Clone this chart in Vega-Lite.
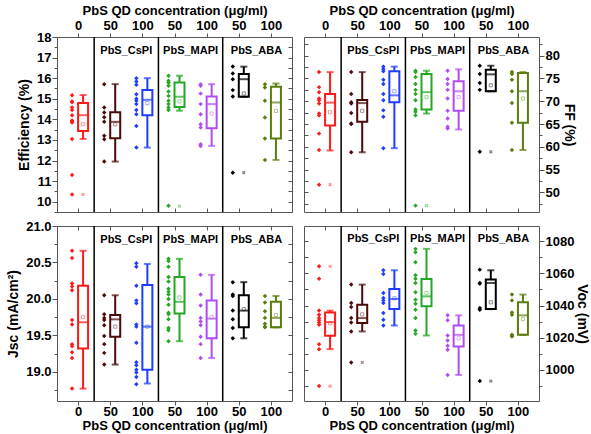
{
"$schema":"https://vega.github.io/schema/vega-lite/v6.json",
"padding":{"left":6,"top":3,"right":0,"bottom":0},
"background":"white",
"config":{"font":"Liberation Sans","view":{"stroke":"#555","strokeWidth":1},
"axis":{"labelFont":"Liberation Sans","labelFontSize":13,"labelFontWeight":"bold","labelColor":"#000","titleFont":"Liberation Sans","titleFontSize":14,"titleFontWeight":"bold","titleColor":"#000","domain":false,"tickColor":"#555","grid":false,"labelPadding":1,"titlePadding":2,"labelFlush":false,"labelOverlap":false}},
"datasets":{
"seps":[{"b":1.5},{"b":3.5},{"b":5.5}],
"labels":[{"t":"PbS_CsPI","c":2.5},{"t":"PbS_MAPI","c":4.5},{"t":"PbS_ABA","c":6.55}],
"ext":[{"p":"E","g":1,"v":10.35},{"p":"E","g":4,"v":9.78},{"p":"E","g":6,"v":11.41},{"p":"F","g":1,"v":51.7},{"p":"F","g":4,"v":47.1},{"p":"F","g":6,"v":58.9},{"p":"V","g":1,"v":1064.4},{"p":"V","g":1,"v":990.0},{"p":"V","g":2,"v":1004.6},{"p":"V","g":6,"v":993.1}],
"box":[
{"p":"E","g":1,"q1":13.44,"med":14.2,"q3":14.79,"lo":13.05,"hi":15.18,"mean":13.76},
{"p":"E","g":2,"q1":13.08,"med":13.88,"q3":14.35,"lo":11.95,"hi":15.71,"mean":13.76},
{"p":"E","g":3,"q1":14.2,"med":14.95,"q3":15.42,"lo":12.63,"hi":16.0,"mean":14.79},
{"p":"E","g":4,"q1":14.6,"med":15.1,"q3":15.79,"lo":14.42,"hi":16.12,"mean":14.87},
{"p":"E","g":5,"q1":13.57,"med":14.74,"q3":15.11,"lo":12.71,"hi":15.71,"mean":14.28},
{"p":"E","g":6,"q1":15.1,"med":15.95,"q3":16.2,"lo":15.1,"hi":16.56,"mean":15.26},
{"p":"E","g":7,"q1":13.07,"med":14.82,"q3":15.58,"lo":12.03,"hi":15.74,"mean":14.41},
{"p":"F","g":1,"q1":64.7,"med":69.7,"q3":71.6,"lo":59.2,"hi":76.4,"mean":67.6},
{"p":"F","g":2,"q1":65.5,"med":69.6,"q3":70.3,"lo":58.8,"hi":76.4,"mean":67.9},
{"p":"F","g":3,"q1":69.8,"med":71.3,"q3":76.6,"lo":59.7,"hi":77.6,"mean":72.2},
{"p":"F","g":4,"q1":68.2,"med":72.0,"q3":76.0,"lo":67.3,"hi":76.7,"mean":70.9},
{"p":"F","g":5,"q1":67.9,"med":72.2,"q3":74.4,"lo":63.8,"hi":77.0,"mean":70.9},
{"p":"F","g":6,"q1":72.2,"med":75.9,"q3":76.9,"lo":72.2,"hi":77.8,"mean":73.5},
{"p":"F","g":7,"q1":65.3,"med":72.2,"q3":76.2,"lo":59.3,"hi":76.4,"mean":70.6},
{"p":"J","g":1,"q1":19.32,"med":19.68,"q3":20.18,"lo":18.77,"hi":20.66,"mean":19.75},
{"p":"J","g":2,"q1":19.48,"med":19.72,"q3":19.78,"lo":19.10,"hi":20.05,"mean":19.62},
{"p":"J","g":3,"q1":19.03,"med":19.62,"q3":20.19,"lo":18.84,"hi":20.48,"mean":19.62},
{"p":"J","g":4,"q1":19.80,"med":19.96,"q3":20.30,"lo":19.42,"hi":20.55,"mean":20.02},
{"p":"J","g":5,"q1":19.46,"med":19.73,"q3":19.98,"lo":19.19,"hi":20.33,"mean":19.75},
{"p":"J","g":6,"q1":19.61,"med":19.84,"q3":20.05,"lo":19.46,"hi":20.23,"mean":19.86},
{"p":"J","g":7,"q1":19.61,"med":19.74,"q3":19.96,"lo":19.61,"hi":20.04,"mean":19.78},
{"p":"V","g":1,"q1":1021.2,"med":1029.7,"q3":1035.7,"lo":1012.9,"hi":1036.8,"mean":1029.0},
{"p":"V","g":2,"q1":1029.1,"med":1032.2,"q3":1040.5,"lo":1023.9,"hi":1053.0,"mean":1034.5},
{"p":"V","g":3,"q1":1037.8,"med":1044.1,"q3":1050.3,"lo":1027.6,"hi":1061.9,"mean":1044.5},
{"p":"V","g":4,"q1":1039.5,"med":1045.7,"q3":1056.5,"lo":1021.4,"hi":1075.2,"mean":1047.8},
{"p":"V","g":5,"q1":1014.5,"med":1021.8,"q3":1027.6,"lo":996.9,"hi":1033.9,"mean":1019.7},
{"p":"V","g":6,"q1":1037.8,"med":1054.0,"q3":1056.1,"lo":1037.8,"hi":1061.9,"mean":1042.0},
{"p":"V","g":7,"q1":1021.8,"med":1033.9,"q3":1042.0,"lo":1021.8,"hi":1046.8,"mean":1031.6}
],
"pts":[
{"p":"E","g":1,"v":15.17},{"p":"E","g":1,"v":14.87},{"p":"E","g":1,"v":14.83},{"p":"E","g":1,"v":14.58},{"p":"E","g":1,"v":14.45},{"p":"E","g":1,"v":14.2},{"p":"E","g":1,"v":13.95},{"p":"E","g":1,"v":13.9},{"p":"E","g":1,"v":13.85},{"p":"E","g":1,"v":13.05},{"p":"E","g":1,"v":11.3},{"p":"E","g":1,"v":10.35},
{"p":"E","g":2,"v":15.71},{"p":"E","g":2,"v":14.58},{"p":"E","g":2,"v":14.33},{"p":"E","g":2,"v":14.1},{"p":"E","g":2,"v":13.88},{"p":"E","g":2,"v":13.2},{"p":"E","g":2,"v":13.03},{"p":"E","g":2,"v":11.95},
{"p":"E","g":3,"v":16.0},{"p":"E","g":3,"v":15.84},{"p":"E","g":3,"v":15.68},{"p":"E","g":3,"v":15.22},{"p":"E","g":3,"v":15.0},{"p":"E","g":3,"v":14.9},{"p":"E","g":3,"v":14.74},{"p":"E","g":3,"v":14.45},{"p":"E","g":3,"v":14.25},{"p":"E","g":3,"v":13.68},{"p":"E","g":3,"v":12.63},
{"p":"E","g":4,"v":16.12},{"p":"E","g":4,"v":15.87},{"p":"E","g":4,"v":15.78},{"p":"E","g":4,"v":15.63},{"p":"E","g":4,"v":15.35},{"p":"E","g":4,"v":15.14},{"p":"E","g":4,"v":14.9},{"p":"E","g":4,"v":14.74},{"p":"E","g":4,"v":14.58},{"p":"E","g":4,"v":14.45},{"p":"E","g":4,"v":9.8},
{"p":"E","g":5,"v":15.71},{"p":"E","g":5,"v":15.63},{"p":"E","g":5,"v":15.25},{"p":"E","g":5,"v":14.74},{"p":"E","g":5,"v":14.25},{"p":"E","g":5,"v":13.76},{"p":"E","g":5,"v":13.6},{"p":"E","g":5,"v":12.79},{"p":"E","g":5,"v":12.71},
{"p":"E","g":6,"v":16.57},{"p":"E","g":6,"v":16.23},{"p":"E","g":6,"v":15.95},{"p":"E","g":6,"v":15.42},{"p":"E","g":6,"v":15.11},{"p":"E","g":6,"v":11.41},
{"p":"E","g":7,"v":15.71},{"p":"E","g":7,"v":15.55},{"p":"E","g":7,"v":14.9},{"p":"E","g":7,"v":14.09},{"p":"E","g":7,"v":13.07},{"p":"E","g":7,"v":12.03},
{"p":"F","g":1,"v":76.4},{"p":"F","g":1,"v":73.1},{"p":"F","g":1,"v":72.0},{"p":"F","g":1,"v":70.6},{"p":"F","g":1,"v":70.2},{"p":"F","g":1,"v":69.5},{"p":"F","g":1,"v":67.3},{"p":"F","g":1,"v":66.9},{"p":"F","g":1,"v":62.9},{"p":"F","g":1,"v":59.3},{"p":"F","g":1,"v":51.7},
{"p":"F","g":2,"v":76.4},{"p":"F","g":2,"v":71.6},{"p":"F","g":2,"v":69.8},{"p":"F","g":2,"v":69.5},{"p":"F","g":2,"v":67.4},{"p":"F","g":2,"v":65.1},{"p":"F","g":2,"v":65.0},{"p":"F","g":2,"v":58.8},
{"p":"F","g":3,"v":77.6},{"p":"F","g":3,"v":77.1},{"p":"F","g":3,"v":76.6},{"p":"F","g":3,"v":74.7},{"p":"F","g":3,"v":73.8},{"p":"F","g":3,"v":71.6},{"p":"F","g":3,"v":70.2},{"p":"F","g":3,"v":68.0},{"p":"F","g":3,"v":66.6},{"p":"F","g":3,"v":59.7},
{"p":"F","g":4,"v":76.7},{"p":"F","g":4,"v":76.4},{"p":"F","g":4,"v":75.3},{"p":"F","g":4,"v":73.8},{"p":"F","g":4,"v":72.5},{"p":"F","g":4,"v":71.6},{"p":"F","g":4,"v":70.2},{"p":"F","g":4,"v":68.2},{"p":"F","g":4,"v":67.7},{"p":"F","g":4,"v":66.9},{"p":"F","g":4,"v":47.1},
{"p":"F","g":5,"v":76.7},{"p":"F","g":5,"v":74.9},{"p":"F","g":5,"v":73.8},{"p":"F","g":5,"v":72.5},{"p":"F","g":5,"v":70.6},{"p":"F","g":5,"v":67.9},{"p":"F","g":5,"v":66.2},{"p":"F","g":5,"v":64.4},{"p":"F","g":5,"v":64.0},
{"p":"F","g":6,"v":77.8},{"p":"F","g":6,"v":76.0},{"p":"F","g":6,"v":74.0},{"p":"F","g":6,"v":72.5},{"p":"F","g":6,"v":58.9},
{"p":"F","g":7,"v":76.4},{"p":"F","g":7,"v":76.0},{"p":"F","g":7,"v":74.7},{"p":"F","g":7,"v":72.2},{"p":"F","g":7,"v":69.6},{"p":"F","g":7,"v":65.3},{"p":"F","g":7,"v":59.3},
{"p":"J","g":1,"v":20.66},{"p":"J","g":1,"v":20.56},{"p":"J","g":1,"v":20.21},{"p":"J","g":1,"v":20.17},{"p":"J","g":1,"v":20.12},{"p":"J","g":1,"v":19.71},{"p":"J","g":1,"v":19.65},{"p":"J","g":1,"v":19.38},{"p":"J","g":1,"v":19.35},{"p":"J","g":1,"v":19.27},{"p":"J","g":1,"v":19.19},{"p":"J","g":1,"v":18.77},
{"p":"J","g":2,"v":20.05},{"p":"J","g":2,"v":19.79},{"p":"J","g":2,"v":19.74},{"p":"J","g":2,"v":19.71},{"p":"J","g":2,"v":19.64},{"p":"J","g":2,"v":19.49},{"p":"J","g":2,"v":19.38},{"p":"J","g":2,"v":19.26},{"p":"J","g":2,"v":19.10},
{"p":"J","g":3,"v":20.49},{"p":"J","g":3,"v":20.44},{"p":"J","g":3,"v":20.18},{"p":"J","g":3,"v":19.98},{"p":"J","g":3,"v":19.94},{"p":"J","g":3,"v":19.65},{"p":"J","g":3,"v":19.62},{"p":"J","g":3,"v":19.40},{"p":"J","g":3,"v":19.13},{"p":"J","g":3,"v":19.09},{"p":"J","g":3,"v":19.03},{"p":"J","g":3,"v":18.99},{"p":"J","g":3,"v":18.93},{"p":"J","g":3,"v":18.83},
{"p":"J","g":4,"v":20.55},{"p":"J","g":4,"v":20.52},{"p":"J","g":4,"v":20.44},{"p":"J","g":4,"v":20.30},{"p":"J","g":4,"v":20.24},{"p":"J","g":4,"v":20.14},{"p":"J","g":4,"v":20.10},{"p":"J","g":4,"v":20.06},{"p":"J","g":4,"v":20.0},{"p":"J","g":4,"v":19.92},{"p":"J","g":4,"v":19.81},{"p":"J","g":4,"v":19.79},{"p":"J","g":4,"v":19.72},{"p":"J","g":4,"v":19.60},{"p":"J","g":4,"v":19.57},{"p":"J","g":4,"v":19.42},
{"p":"J","g":5,"v":20.33},{"p":"J","g":5,"v":20.06},{"p":"J","g":5,"v":19.91},{"p":"J","g":5,"v":19.74},{"p":"J","g":5,"v":19.69},{"p":"J","g":5,"v":19.64},{"p":"J","g":5,"v":19.48},{"p":"J","g":5,"v":19.38},{"p":"J","g":5,"v":19.19},
{"p":"J","g":6,"v":20.23},{"p":"J","g":6,"v":20.06},{"p":"J","g":6,"v":20.04},{"p":"J","g":6,"v":19.84},{"p":"J","g":6,"v":19.72},{"p":"J","g":6,"v":19.60},{"p":"J","g":6,"v":19.46},
{"p":"J","g":7,"v":20.04},{"p":"J","g":7,"v":19.95},{"p":"J","g":7,"v":19.83},{"p":"J","g":7,"v":19.74},{"p":"J","g":7,"v":19.66},{"p":"J","g":7,"v":19.61},{"p":"J","g":7,"v":19.62},
{"p":"V","g":1,"v":1064.4},{"p":"V","g":1,"v":1056.7},{"p":"V","g":1,"v":1036.9},{"p":"V","g":1,"v":1034.3},{"p":"V","g":1,"v":1032.2},{"p":"V","g":1,"v":1030.8},{"p":"V","g":1,"v":1029.5},{"p":"V","g":1,"v":1028.1},{"p":"V","g":1,"v":1016.0},{"p":"V","g":1,"v":1012.9},{"p":"V","g":1,"v":990.0},
{"p":"V","g":2,"v":1053.0},{"p":"V","g":2,"v":1041.6},{"p":"V","g":2,"v":1039.1},{"p":"V","g":2,"v":1032.2},{"p":"V","g":2,"v":1029.5},{"p":"V","g":2,"v":1023.9},{"p":"V","g":2,"v":1004.6},
{"p":"V","g":3,"v":1061.9},{"p":"V","g":3,"v":1059.6},{"p":"V","g":3,"v":1047.8},{"p":"V","g":3,"v":1044.7},{"p":"V","g":3,"v":1043.2},{"p":"V","g":3,"v":1041.6},{"p":"V","g":3,"v":1035.3},{"p":"V","g":3,"v":1031.2},{"p":"V","g":3,"v":1027.6},
{"p":"V","g":4,"v":1075.2},{"p":"V","g":4,"v":1073.1},{"p":"V","g":4,"v":1066.9},{"p":"V","g":4,"v":1058.8},{"p":"V","g":4,"v":1056.7},{"p":"V","g":4,"v":1054.0},{"p":"V","g":4,"v":1048.2},{"p":"V","g":4,"v":1043.6},{"p":"V","g":4,"v":1041.1},{"p":"V","g":4,"v":1037.4},{"p":"V","g":4,"v":1032.2},{"p":"V","g":4,"v":1024.5},{"p":"V","g":4,"v":1022.4},
{"p":"V","g":5,"v":1033.9},{"p":"V","g":5,"v":1030.8},{"p":"V","g":5,"v":1021.4},{"p":"V","g":5,"v":1018.3},{"p":"V","g":5,"v":1015.0},{"p":"V","g":5,"v":1012.5},{"p":"V","g":5,"v":996.9},
{"p":"V","g":6,"v":1062.3},{"p":"V","g":6,"v":1054.0},{"p":"V","g":6,"v":1053.6},{"p":"V","g":6,"v":1038.4},{"p":"V","g":6,"v":1037.4},{"p":"V","g":6,"v":993.1},
{"p":"V","g":7,"v":1046.8},{"p":"V","g":7,"v":1043.2},{"p":"V","g":7,"v":1035.7},{"p":"V","g":7,"v":1034.3},{"p":"V","g":7,"v":1021.8},{"p":"V","g":7,"v":1021.2},{"p":"V","g":7,"v":1020.8}
]},
"bounds":"flush",
"spacing":{"row":14,"column":12},
"columns":2,
"concat":[
{"width":235,"height":175,"resolve":{"axis":{"x":"independent","y":"independent"}},
"layer":[
{"data":{"name":"seps"},"mark":{"type":"rule","color":"#000","strokeWidth":1.5},"encoding":{"x":{"field":"b","type":"quantitative","scale":{"domain":[0.5,7.5],"nice":false,"zero":false},"axis":null}}},
{"data":{"name":"box"},"transform":[{"filter":"datum.p=='E'"}],"mark":{"type":"bar","filled":false,"size":10,"strokeWidth":2,"xOffset":5},
"encoding":{"x":{"field":"g","type":"quantitative","axis":{"orient":"bottom","values":[1,2,3,4,5,6,7],"labels":false,"tickSize":-4,"title":null}},
"y":{"field":"q1","type":"quantitative","scale":{"domain":[9.5,18],"nice":false,"zero":false},"axis":{"orient":"right","values":[9.5,10,10.5,11,11.5,12,12.5,13,13.5,14,14.5,15,15.5,16,16.5,17,17.5,18],"labels":false,"tickSize":-4,"title":null}},"y2":{"field":"q3"},
"color":{"field":"g","type":"nominal","scale":{"domain":[1,2,3,4,5,6,7],"range":["#ff1a1a","#4b0a0a","#1f3dff","#22a822","#b04cf5","#000000","#5a7d0f"]},"legend":null}}},
{"data":{"name":"box"},"transform":[{"filter":"datum.p=='E'"}],"mark":{"type":"rule","strokeWidth":2,"xOffset":5},"encoding":{"x":{"field":"g","type":"quantitative","axis":null},"y":{"field":"lo","type":"quantitative","axis":null},"y2":{"field":"q1"},"color":{"field":"g","type":"nominal","legend":null}}},
{"data":{"name":"box"},"transform":[{"filter":"datum.p=='E'"}],"mark":{"type":"rule","strokeWidth":2,"xOffset":5},"encoding":{"x":{"field":"g","type":"quantitative","axis":null},"y":{"field":"q3","type":"quantitative","axis":null},"y2":{"field":"hi"},"color":{"field":"g","type":"nominal","legend":null}}},
{"data":{"name":"box"},"transform":[{"filter":"datum.p=='E'"}],"mark":{"type":"tick","orient":"horizontal","size":7,"thickness":2,"xOffset":5},"encoding":{"x":{"field":"g","type":"quantitative","axis":null},"y":{"field":"lo","type":"quantitative","axis":null},"color":{"field":"g","type":"nominal","legend":null}}},
{"data":{"name":"box"},"transform":[{"filter":"datum.p=='E'"}],"mark":{"type":"tick","orient":"horizontal","size":7,"thickness":2,"xOffset":5},"encoding":{"x":{"field":"g","type":"quantitative","axis":null},"y":{"field":"hi","type":"quantitative","axis":null},"color":{"field":"g","type":"nominal","legend":null}}},
{"data":{"name":"box"},"transform":[{"filter":"datum.p=='E'"}],"mark":{"type":"tick","orient":"horizontal","size":10,"thickness":2,"xOffset":5},"encoding":{"x":{"field":"g","type":"quantitative","axis":null},"y":{"field":"med","type":"quantitative","axis":null},"color":{"field":"g","type":"nominal","legend":null}}},
{"data":{"name":"box"},"transform":[{"filter":"datum.p=='E'"}],"mark":{"type":"point","shape":"square","size":10,"filled":false,"strokeWidth":1,"opacity":0.45,"xOffset":5},"encoding":{"x":{"field":"g","type":"quantitative","axis":null},"y":{"field":"mean","type":"quantitative","axis":null},"color":{"field":"g","type":"nominal","legend":null}}},
{"data":{"name":"ext"},"transform":[{"filter":"datum.p=='E'"}],"mark":{"type":"point","shape":"cross","angle":45,"size":14,"filled":true,"opacity":0.45,"xOffset":5},"encoding":{"x":{"field":"g","type":"quantitative","axis":null},"y":{"field":"v","type":"quantitative","axis":null},"color":{"field":"g","type":"nominal","legend":null}}},
{"data":{"name":"pts"},"transform":[{"filter":"datum.p=='E'"}],"mark":{"type":"point","shape":"diamond","filled":true,"size":20,"opacity":1,"xOffset":-6},
"encoding":{"x":{"field":"g","type":"quantitative","axis":{"orient":"top","values":[1,2,3,4,5,6,7],"labelExpr":"datum.value==1?'0':(datum.value%2==0?'50':'100')","title":"PbS QD concentration (μg/ml)","titleFontSize":13,"tickSize":4,"labelPadding":1,"titlePadding":2}},
"y":{"field":"v","type":"quantitative","axis":{"orient":"left","values":[10,11,12,13,14,15,16,17,18],"title":"Efficiency (%)","tickSize":5,"titlePadding":5}},"color":{"field":"g","type":"nominal","legend":null}}},
{"data":{"name":"labels"},"mark":{"type":"text","font":"Liberation Sans","fontSize":11,"fontWeight":"bold","baseline":"middle","color":"#000"},"encoding":{"x":{"field":"c","type":"quantitative","axis":null},"y":{"datum":17.33,"type":"quantitative","axis":{"orient":"left","values":[9.5,10.5,11.5,12.5,13.5,14.5,15.5,16.5,17.5],"labels":false,"tickSize":3,"title":null}},"text":{"field":"t"}}}
]},
{"width":235,"height":175,"resolve":{"axis":{"x":"independent","y":"independent"}},
"layer":[
{"data":{"name":"seps"},"mark":{"type":"rule","color":"#000","strokeWidth":1.5},"encoding":{"x":{"field":"b","type":"quantitative","scale":{"domain":[0.5,7.5],"nice":false,"zero":false},"axis":null}}},
{"data":{"name":"box"},"transform":[{"filter":"datum.p=='F'"}],"mark":{"type":"bar","filled":false,"size":10,"strokeWidth":2,"xOffset":5},
"encoding":{"x":{"field":"g","type":"quantitative","axis":{"orient":"bottom","values":[1,2,3,4,5,6,7],"labels":false,"tickSize":-4,"title":null}},
"y":{"field":"q1","type":"quantitative","scale":{"domain":[45.7,84.1],"nice":false,"zero":false},"axis":{"orient":"left","values":[47.5,50,52.5,55,57.5,60,62.5,65,67.5,70,72.5,75,77.5,80,82.5],"labels":false,"tickSize":-4,"title":null}},"y2":{"field":"q3"},
"color":{"field":"g","type":"nominal","scale":{"domain":[1,2,3,4,5,6,7],"range":["#ff1a1a","#4b0a0a","#1f3dff","#22a822","#b04cf5","#000000","#5a7d0f"]},"legend":null}}},
{"data":{"name":"box"},"transform":[{"filter":"datum.p=='F'"}],"mark":{"type":"rule","strokeWidth":2,"xOffset":5},"encoding":{"x":{"field":"g","type":"quantitative","axis":null},"y":{"field":"lo","type":"quantitative","axis":null},"y2":{"field":"q1"},"color":{"field":"g","type":"nominal","legend":null}}},
{"data":{"name":"box"},"transform":[{"filter":"datum.p=='F'"}],"mark":{"type":"rule","strokeWidth":2,"xOffset":5},"encoding":{"x":{"field":"g","type":"quantitative","axis":null},"y":{"field":"q3","type":"quantitative","axis":null},"y2":{"field":"hi"},"color":{"field":"g","type":"nominal","legend":null}}},
{"data":{"name":"box"},"transform":[{"filter":"datum.p=='F'"}],"mark":{"type":"tick","orient":"horizontal","size":7,"thickness":2,"xOffset":5},"encoding":{"x":{"field":"g","type":"quantitative","axis":null},"y":{"field":"lo","type":"quantitative","axis":null},"color":{"field":"g","type":"nominal","legend":null}}},
{"data":{"name":"box"},"transform":[{"filter":"datum.p=='F'"}],"mark":{"type":"tick","orient":"horizontal","size":7,"thickness":2,"xOffset":5},"encoding":{"x":{"field":"g","type":"quantitative","axis":null},"y":{"field":"hi","type":"quantitative","axis":null},"color":{"field":"g","type":"nominal","legend":null}}},
{"data":{"name":"box"},"transform":[{"filter":"datum.p=='F'"}],"mark":{"type":"tick","orient":"horizontal","size":10,"thickness":2,"xOffset":5},"encoding":{"x":{"field":"g","type":"quantitative","axis":null},"y":{"field":"med","type":"quantitative","axis":null},"color":{"field":"g","type":"nominal","legend":null}}},
{"data":{"name":"box"},"transform":[{"filter":"datum.p=='F'"}],"mark":{"type":"point","shape":"square","size":10,"filled":false,"strokeWidth":1,"opacity":0.45,"xOffset":5},"encoding":{"x":{"field":"g","type":"quantitative","axis":null},"y":{"field":"mean","type":"quantitative","axis":null},"color":{"field":"g","type":"nominal","legend":null}}},
{"data":{"name":"ext"},"transform":[{"filter":"datum.p=='F'"}],"mark":{"type":"point","shape":"cross","angle":45,"size":14,"filled":true,"opacity":0.45,"xOffset":5},"encoding":{"x":{"field":"g","type":"quantitative","axis":null},"y":{"field":"v","type":"quantitative","axis":null},"color":{"field":"g","type":"nominal","legend":null}}},
{"data":{"name":"pts"},"transform":[{"filter":"datum.p=='F'"}],"mark":{"type":"point","shape":"diamond","filled":true,"size":20,"opacity":1,"xOffset":-6},
"encoding":{"x":{"field":"g","type":"quantitative","axis":{"orient":"top","values":[1,2,3,4,5,6,7],"labelExpr":"datum.value==1?'0':(datum.value%2==0?'50':'100')","title":"PbS QD concentration (μg/ml)","titleFontSize":13,"tickSize":4,"labelPadding":1,"titlePadding":2}},
"y":{"field":"v","type":"quantitative","axis":{"orient":"right","values":[50,55,60,65,70,75,80],"title":"FF (%)","tickSize":5,"titlePadding":2}},"color":{"field":"g","type":"nominal","legend":null}}},
{"data":{"name":"labels"},"mark":{"type":"text","font":"Liberation Sans","fontSize":11,"fontWeight":"bold","baseline":"middle","color":"#000"},"encoding":{"x":{"field":"c","type":"quantitative","axis":null},"y":{"datum":81.1,"type":"quantitative","axis":{"orient":"right","values":[47.5,52.5,57.5,62.5,67.5,72.5,77.5,82.5],"labels":false,"tickSize":3,"title":null}},"text":{"field":"t"}}}
]},
{"width":235,"height":175,"resolve":{"axis":{"x":"independent","y":"independent"}},
"layer":[
{"data":{"name":"seps"},"mark":{"type":"rule","color":"#000","strokeWidth":1.5},"encoding":{"x":{"field":"b","type":"quantitative","scale":{"domain":[0.5,7.5],"nice":false,"zero":false},"axis":null}}},
{"data":{"name":"box"},"transform":[{"filter":"datum.p=='J'"}],"mark":{"type":"bar","filled":false,"size":10,"strokeWidth":2,"xOffset":5},
"encoding":{"x":{"field":"g","type":"quantitative","axis":{"orient":"top","values":[1,2,3,4,5,6,7],"labels":false,"tickSize":-4,"title":null}},
"y":{"field":"q1","type":"quantitative","scale":{"domain":[18.6,21.0],"nice":false,"zero":false},"axis":{"orient":"right","values":[18.75,19,19.25,19.5,19.75,20,20.25,20.5,20.75,21],"labels":false,"tickSize":-4,"title":null}},"y2":{"field":"q3"},
"color":{"field":"g","type":"nominal","scale":{"domain":[1,2,3,4,5,6,7],"range":["#ff1a1a","#4b0a0a","#1f3dff","#22a822","#b04cf5","#000000","#5a7d0f"]},"legend":null}}},
{"data":{"name":"box"},"transform":[{"filter":"datum.p=='J'"}],"mark":{"type":"rule","strokeWidth":2,"xOffset":5},"encoding":{"x":{"field":"g","type":"quantitative","axis":null},"y":{"field":"lo","type":"quantitative","axis":null},"y2":{"field":"q1"},"color":{"field":"g","type":"nominal","legend":null}}},
{"data":{"name":"box"},"transform":[{"filter":"datum.p=='J'"}],"mark":{"type":"rule","strokeWidth":2,"xOffset":5},"encoding":{"x":{"field":"g","type":"quantitative","axis":null},"y":{"field":"q3","type":"quantitative","axis":null},"y2":{"field":"hi"},"color":{"field":"g","type":"nominal","legend":null}}},
{"data":{"name":"box"},"transform":[{"filter":"datum.p=='J'"}],"mark":{"type":"tick","orient":"horizontal","size":7,"thickness":2,"xOffset":5},"encoding":{"x":{"field":"g","type":"quantitative","axis":null},"y":{"field":"lo","type":"quantitative","axis":null},"color":{"field":"g","type":"nominal","legend":null}}},
{"data":{"name":"box"},"transform":[{"filter":"datum.p=='J'"}],"mark":{"type":"tick","orient":"horizontal","size":7,"thickness":2,"xOffset":5},"encoding":{"x":{"field":"g","type":"quantitative","axis":null},"y":{"field":"hi","type":"quantitative","axis":null},"color":{"field":"g","type":"nominal","legend":null}}},
{"data":{"name":"box"},"transform":[{"filter":"datum.p=='J'"}],"mark":{"type":"tick","orient":"horizontal","size":10,"thickness":2,"xOffset":5},"encoding":{"x":{"field":"g","type":"quantitative","axis":null},"y":{"field":"med","type":"quantitative","axis":null},"color":{"field":"g","type":"nominal","legend":null}}},
{"data":{"name":"box"},"transform":[{"filter":"datum.p=='J'"}],"mark":{"type":"point","shape":"square","size":10,"filled":false,"strokeWidth":1,"opacity":0.45,"xOffset":5},"encoding":{"x":{"field":"g","type":"quantitative","axis":null},"y":{"field":"mean","type":"quantitative","axis":null},"color":{"field":"g","type":"nominal","legend":null}}},
{"data":{"name":"pts"},"transform":[{"filter":"datum.p=='J'"}],"mark":{"type":"point","shape":"diamond","filled":true,"size":20,"opacity":1,"xOffset":-6},
"encoding":{"x":{"field":"g","type":"quantitative","axis":{"orient":"bottom","values":[1,2,3,4,5,6,7],"labelExpr":"datum.value==1?'0':(datum.value%2==0?'50':'100')","title":"PbS QD concentration (μg/ml)","titleFontSize":13,"tickSize":4,"labelPadding":0,"titlePadding":1}},
"y":{"field":"v","type":"quantitative","axis":{"orient":"left","values":[19,19.5,20,20.5,21],"format":".1f","title":"Jsc (mA/cm²)","tickSize":5,"titlePadding":5}},"color":{"field":"g","type":"nominal","legend":null}}},
{"data":{"name":"labels"},"mark":{"type":"text","font":"Liberation Sans","fontSize":11,"fontWeight":"bold","baseline":"middle","color":"#000"},"encoding":{"x":{"field":"c","type":"quantitative","axis":null},"y":{"datum":20.81,"type":"quantitative","axis":{"orient":"left","values":[18.75,19.25,19.75,20.25,20.75],"labels":false,"tickSize":3,"title":null}},"text":{"field":"t"}}}
]},
{"width":235,"height":175,"resolve":{"axis":{"x":"independent","y":"independent"}},
"layer":[
{"data":{"name":"seps"},"mark":{"type":"rule","color":"#000","strokeWidth":1.5},"encoding":{"x":{"field":"b","type":"quantitative","scale":{"domain":[0.5,7.5],"nice":false,"zero":false},"axis":null}}},
{"data":{"name":"box"},"transform":[{"filter":"datum.p=='V'"}],"mark":{"type":"bar","filled":false,"size":10,"strokeWidth":2,"xOffset":5},
"encoding":{"x":{"field":"g","type":"quantitative","axis":{"orient":"top","values":[1,2,3,4,5,6,7],"labels":false,"tickSize":-4,"title":null}},
"y":{"field":"q1","type":"quantitative","scale":{"domain":[980.7,1089.4],"nice":false,"zero":false},"axis":{"orient":"left","values":[990,1000,1010,1020,1030,1040,1050,1060,1070,1080],"labels":false,"tickSize":-4,"title":null}},"y2":{"field":"q3"},
"color":{"field":"g","type":"nominal","scale":{"domain":[1,2,3,4,5,6,7],"range":["#ff1a1a","#4b0a0a","#1f3dff","#22a822","#b04cf5","#000000","#5a7d0f"]},"legend":null}}},
{"data":{"name":"box"},"transform":[{"filter":"datum.p=='V'"}],"mark":{"type":"rule","strokeWidth":2,"xOffset":5},"encoding":{"x":{"field":"g","type":"quantitative","axis":null},"y":{"field":"lo","type":"quantitative","axis":null},"y2":{"field":"q1"},"color":{"field":"g","type":"nominal","legend":null}}},
{"data":{"name":"box"},"transform":[{"filter":"datum.p=='V'"}],"mark":{"type":"rule","strokeWidth":2,"xOffset":5},"encoding":{"x":{"field":"g","type":"quantitative","axis":null},"y":{"field":"q3","type":"quantitative","axis":null},"y2":{"field":"hi"},"color":{"field":"g","type":"nominal","legend":null}}},
{"data":{"name":"box"},"transform":[{"filter":"datum.p=='V'"}],"mark":{"type":"tick","orient":"horizontal","size":7,"thickness":2,"xOffset":5},"encoding":{"x":{"field":"g","type":"quantitative","axis":null},"y":{"field":"lo","type":"quantitative","axis":null},"color":{"field":"g","type":"nominal","legend":null}}},
{"data":{"name":"box"},"transform":[{"filter":"datum.p=='V'"}],"mark":{"type":"tick","orient":"horizontal","size":7,"thickness":2,"xOffset":5},"encoding":{"x":{"field":"g","type":"quantitative","axis":null},"y":{"field":"hi","type":"quantitative","axis":null},"color":{"field":"g","type":"nominal","legend":null}}},
{"data":{"name":"box"},"transform":[{"filter":"datum.p=='V'"}],"mark":{"type":"tick","orient":"horizontal","size":10,"thickness":2,"xOffset":5},"encoding":{"x":{"field":"g","type":"quantitative","axis":null},"y":{"field":"med","type":"quantitative","axis":null},"color":{"field":"g","type":"nominal","legend":null}}},
{"data":{"name":"box"},"transform":[{"filter":"datum.p=='V'"}],"mark":{"type":"point","shape":"square","size":10,"filled":false,"strokeWidth":1,"opacity":0.45,"xOffset":5},"encoding":{"x":{"field":"g","type":"quantitative","axis":null},"y":{"field":"mean","type":"quantitative","axis":null},"color":{"field":"g","type":"nominal","legend":null}}},
{"data":{"name":"ext"},"transform":[{"filter":"datum.p=='V'"}],"mark":{"type":"point","shape":"cross","angle":45,"size":14,"filled":true,"opacity":0.45,"xOffset":5},"encoding":{"x":{"field":"g","type":"quantitative","axis":null},"y":{"field":"v","type":"quantitative","axis":null},"color":{"field":"g","type":"nominal","legend":null}}},
{"data":{"name":"pts"},"transform":[{"filter":"datum.p=='V'"}],"mark":{"type":"point","shape":"diamond","filled":true,"size":20,"opacity":1,"xOffset":-6},
"encoding":{"x":{"field":"g","type":"quantitative","axis":{"orient":"bottom","values":[1,2,3,4,5,6,7],"labelExpr":"datum.value==1?'0':(datum.value%2==0?'50':'100')","title":"PbS QD concentration (μg/ml)","titleFontSize":13,"tickSize":4,"labelPadding":0,"titlePadding":1}},
"y":{"field":"v","type":"quantitative","axis":{"orient":"right","values":[1000,1020,1040,1060,1080],"format":"d","title":"Voc (mV)","tickSize":5,"titlePadding":1}},"color":{"field":"g","type":"nominal","legend":null}}},
{"data":{"name":"labels"},"mark":{"type":"text","font":"Liberation Sans","fontSize":11,"fontWeight":"bold","baseline":"middle","color":"#000"},"encoding":{"x":{"field":"c","type":"quantitative","axis":null},"y":{"datum":1081.5,"type":"quantitative","axis":{"orient":"right","values":[990,1010,1030,1050,1070],"labels":false,"tickSize":3,"title":null}},"text":{"field":"t"}}}
]}
]}
